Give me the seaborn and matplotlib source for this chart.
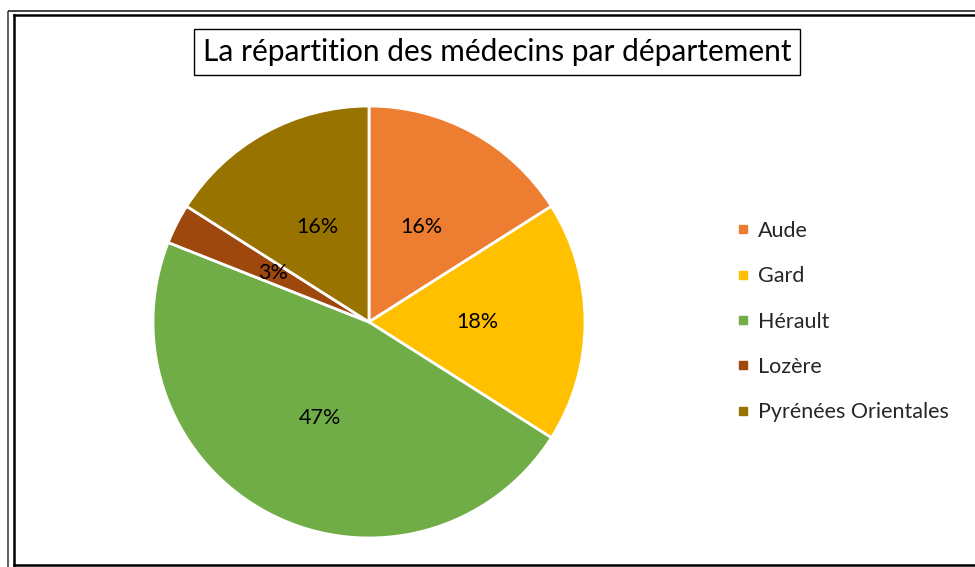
import matplotlib
matplotlib.use("Agg")
import matplotlib.pyplot as plt
from matplotlib.lines import Line2D
import seaborn as sns

categories = ["Aude", "Gard", "Hérault", "Lozère", "Pyrénées Orientales"]
values = [16, 18, 47, 3, 16]
colors = ["#ED7D31", "#FFC000", "#70AD47", "#9E480E", "#997300"]
title = "La répartition des médecins par département"

sns.set_theme(style="white")
plt.rcParams["font.family"] = ["Lato", "DejaVu Sans"]

W, H = 975, 567
fig = plt.figure(figsize=(W / 100, H / 100), dpi=100)
fig.patch.set_facecolor("white")

# pie axes
cx, cy, r = 369, 322, 216
ax = fig.add_axes([(cx - r) / W, (H - cy - r) / H, 2 * r / W, 2 * r / H])
palette = sns.color_palette(colors)
wedges, texts, autotexts = ax.pie(
    values, colors=palette, startangle=90, counterclock=False,
    autopct=lambda p: f"{p:.0f}%", pctdistance=0.5, radius=1,
    wedgeprops=dict(edgecolor="white", linewidth=2.0),
    textprops=dict(fontsize=15.5, color="black"),
)
ax.set_xlim(-1, 1)
ax.set_ylim(-1, 1)
ax.set_aspect("equal")
ax.axis("off")

# legend
handles = [Line2D([0], [0], marker="s", linestyle="none", markersize=6,
                  markerfacecolor=c, markeredgecolor=c) for c in palette]
fig.legend(handles, categories, loc="center left",
           bbox_to_anchor=(736.5 / W, (H - 321.5) / H), frameon=False,
           fontsize=15.5, handlelength=0.6, handletextpad=0.4,
           labelspacing=1.18, borderpad=0, borderaxespad=0)

# title in box
fig.text(497 / W, (H - 52) / H, title, ha="center", va="center", fontsize=21.5,
         color="black",
         bbox=dict(boxstyle="square,pad=0.3", facecolor="white",
                   edgecolor="black", linewidth=1.0))

# double frame
ov = fig.add_axes([0, 0, 1, 1], zorder=-1)
ov.set_xlim(0, W)
ov.set_ylim(H, 0)
ov.axis("off")
ov.plot([8, 8], [H + 5, 10.5], color="#333333", lw=1.1, solid_capstyle="butt")
ov.plot([8, W + 5], [10.5, 10.5], color="#111111", lw=1.1, solid_capstyle="butt")
ov.plot([13.5, 13.5], [565, 15], color="black", lw=1.8, solid_capstyle="projecting")
ov.plot([13.5, W + 5], [15, 15], color="black", lw=1.8, solid_capstyle="projecting")
ov.plot([13.5, W + 5], [565, 565], color="black", lw=1.8, solid_capstyle="projecting")

fig.savefig("out.png", dpi=100)
